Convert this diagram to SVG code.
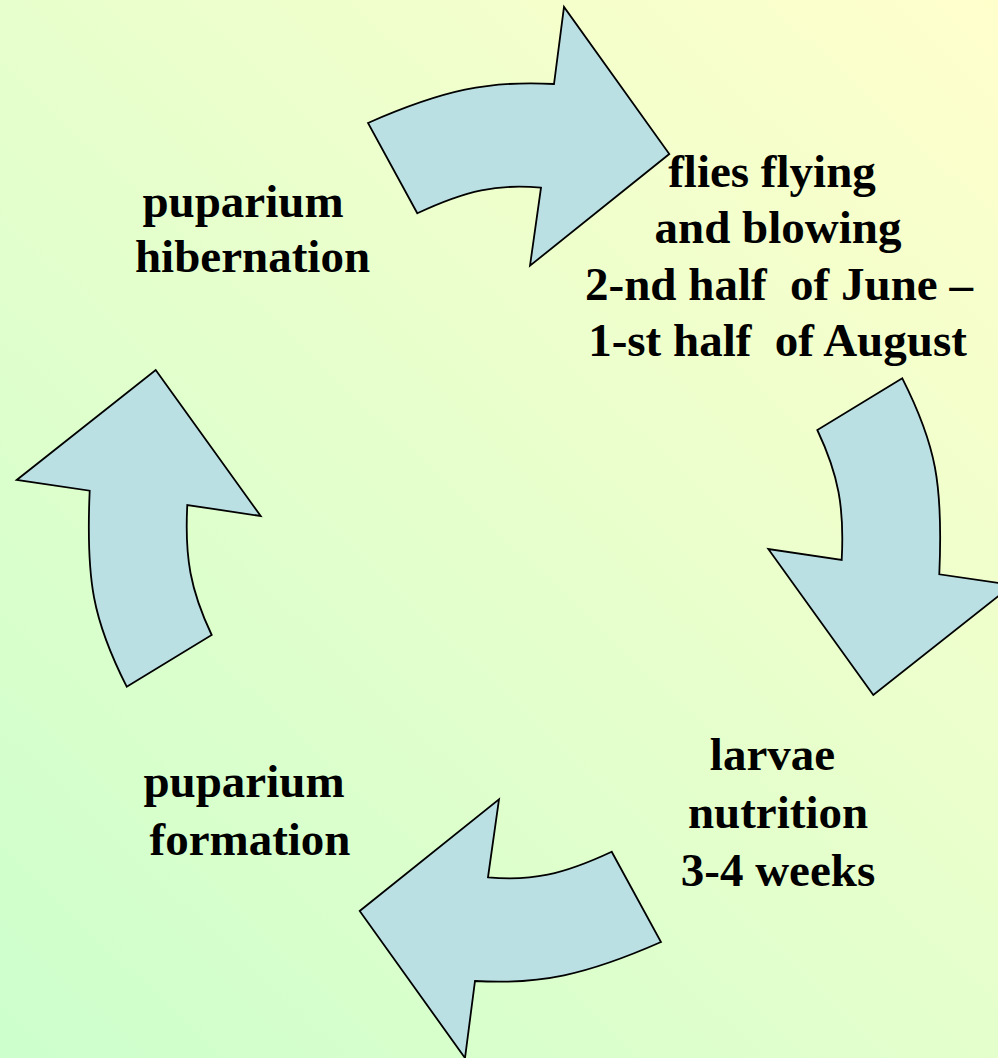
<svg xmlns="http://www.w3.org/2000/svg" width="998" height="1058" viewBox="0 0 998 1058">
<defs>
<linearGradient id="bg" gradientUnits="userSpaceOnUse" x1="998" y1="0" x2="0" y2="1058">
<stop offset="0" stop-color="#FFFFCC"/>
<stop offset="1" stop-color="#CCFFCC"/>
</linearGradient>
<style>
.arrow{fill:#BBE0E3;stroke:#000;stroke-width:1.8;stroke-linejoin:miter}
.lbl{font-family:"Liberation Serif","Times New Roman",serif;font-weight:bold;font-size:47px;fill:#000;text-anchor:middle}
</style>
</defs>
<rect x="0" y="0" width="998" height="1058" fill="url(#bg)"/>
<g id="connectors">
<path id="arrow-top" class="arrow" d="M368,123 C443,90 489.5,80.25 554,84 L564,7 L669.3,154 L530,265.7 L541,187.7 C497.5,183.8 466.6,190.2 417.3,213.3 Z"/>
<path id="arrow-right" class="arrow" d="M902.3,378.3 C935.9,444.6 943.3,483.8 939.3,574.3 L1012.3,585 L873.3,695 L768.3,549 L841.7,560 C844.5,507.3 838.5,474.8 817.3,430 Z"/>
<path id="arrow-bottom" class="arrow" transform="rotate(180 514.5 532.5)" d="M368,123 C443,90 489.5,80.25 554,84 L564,7 L669.3,154 L530,265.7 L541,187.7 C497.5,183.8 466.6,190.2 417.3,213.3 Z"/>
<path id="arrow-left" class="arrow" transform="rotate(180 514.5 532.5)" d="M902.3,378.3 C935.9,444.6 943.3,483.8 939.3,574.3 L1012.3,585 L873.3,695 L768.3,549 L841.7,560 C844.5,507.3 838.5,474.8 817.3,430 Z"/>
</g>
<g id="node-hibernation">
<text class="lbl" x="243" y="217">puparium</text>
<text class="lbl" x="252.5" y="272">hibernation</text>
</g>
<g id="node-flies">
<text class="lbl" x="772" y="187">flies flying</text>
<text class="lbl" x="778" y="243">and blowing</text>
<text class="lbl" x="779" y="300" xml:space="preserve">2-nd half  of June –</text>
<text class="lbl" x="777.5" y="356" xml:space="preserve">1-st half  of August</text>
</g>
<g id="node-larvae">
<text class="lbl" x="772.5" y="770">larvae</text>
<text class="lbl" x="778" y="828">nutrition</text>
<text class="lbl" x="778" y="886">3-4 weeks</text>
</g>
<g id="node-formation">
<text class="lbl" x="244" y="797">puparium</text>
<text class="lbl" x="250" y="855">formation</text>
</g>
</svg>
